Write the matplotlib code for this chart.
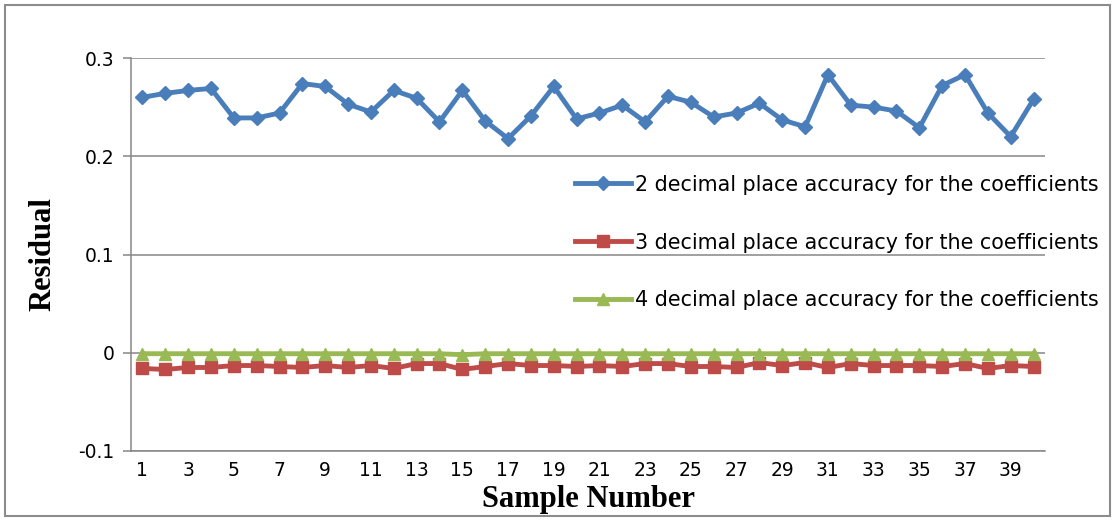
import matplotlib.pyplot as plt
import numpy as np
from matplotlib.patches import Rectangle

# Sample numbers and residuals
samples = np.arange(1, 41)

two_dec = [0.260, 0.264, 0.267, 0.269, 0.239, 0.239, 0.244, 0.274, 0.271, 0.253,
           0.245, 0.267, 0.259, 0.235, 0.267, 0.236, 0.218, 0.241, 0.271, 0.238,
           0.244, 0.252, 0.235, 0.261, 0.255, 0.240, 0.244, 0.254, 0.237, 0.230,
           0.283, 0.252, 0.250, 0.246, 0.229, 0.272, 0.283, 0.244, 0.220, 0.258]

three_dec = [-0.016, -0.017, -0.015, -0.015, -0.013, -0.013, -0.014, -0.015, -0.013, -0.015,
             -0.013, -0.016, -0.011, -0.011, -0.017, -0.014, -0.011, -0.013, -0.013, -0.014,
             -0.013, -0.014, -0.011, -0.011, -0.014, -0.014, -0.015, -0.010, -0.013, -0.010,
             -0.015, -0.011, -0.013, -0.013, -0.013, -0.014, -0.011, -0.016, -0.013, -0.014]

four_dec = [-0.001, -0.001, -0.001, -0.001, -0.001, -0.001, -0.001, -0.001, -0.001, -0.001,
            -0.001, -0.001, -0.001, -0.001, -0.002, -0.001, -0.001, -0.001, -0.001, -0.001,
            -0.001, -0.001, -0.001, -0.001, -0.001, -0.001, -0.001, -0.001, -0.001, -0.001,
            -0.001, -0.001, -0.001, -0.001, -0.001, -0.001, -0.001, -0.001, -0.001, -0.001]

labels = ['2 decimal place accuracy for the coefficients',
          '3 decimal place accuracy for the coefficients',
          '4 decimal place accuracy for the coefficients']

fig = plt.figure(figsize=(11.15, 5.21), dpi=100)
ax = fig.add_axes([131/1115, 1 - 451/521, 914/1115, 393/521])

# outer chart border
fig.patches.append(Rectangle((5/1115, 5/521), 1105/1115, 511/521, transform=fig.transFigure,
                             fill=False, edgecolor='#8c8c8c', linewidth=1.5))

ax.plot(samples, two_dec, color='#4A7EBB', lw=3.5, marker='D', markersize=7.5, label=labels[0])
ax.plot(samples, three_dec, color='#BE4B48', lw=3.5, marker='s', markersize=8.5, label=labels[1])
ax.plot(samples, four_dec, color='#98B954', lw=3.5, marker='^', markersize=8.5, label=labels[2])

ax.set_xlim(0.5, 40.5)
ax.set_ylim(-0.1, 0.3)
ax.set_yticks([-0.1, 0, 0.1, 0.2, 0.3])
ax.set_yticklabels(['-0.1', '0', '0.1', '0.2', '0.3'])
ax.set_xticks(np.arange(1, 41, 2))

ax.grid(axis='y', color='#868686', lw=1.1)
ax.set_axisbelow(True)
for s in ['top', 'right']:
    ax.spines[s].set_visible(False)
for s in ['left', 'bottom']:
    ax.spines[s].set_color('#868686')
    ax.spines[s].set_linewidth(1.1)

ax.tick_params(axis='y', length=6, width=1.1, color='#868686', labelsize=13.5, pad=6)
ax.tick_params(axis='x', length=0, labelsize=13.5, pad=7)

ax.set_ylabel('Residual', family='Liberation Serif', fontweight='bold', fontsize=22, labelpad=15)
ax.set_xlabel('Sample Number', family='Liberation Serif', fontweight='bold', fontsize=22, labelpad=4)

ax.legend(loc='upper left', bbox_to_anchor=(0.486, 0.703), frameon=False, fontsize=14.9,
          handlelength=2.7, handletextpad=0.2, labelspacing=1.83, borderpad=0, borderaxespad=0)

plt.savefig('out.png', dpi=100)
